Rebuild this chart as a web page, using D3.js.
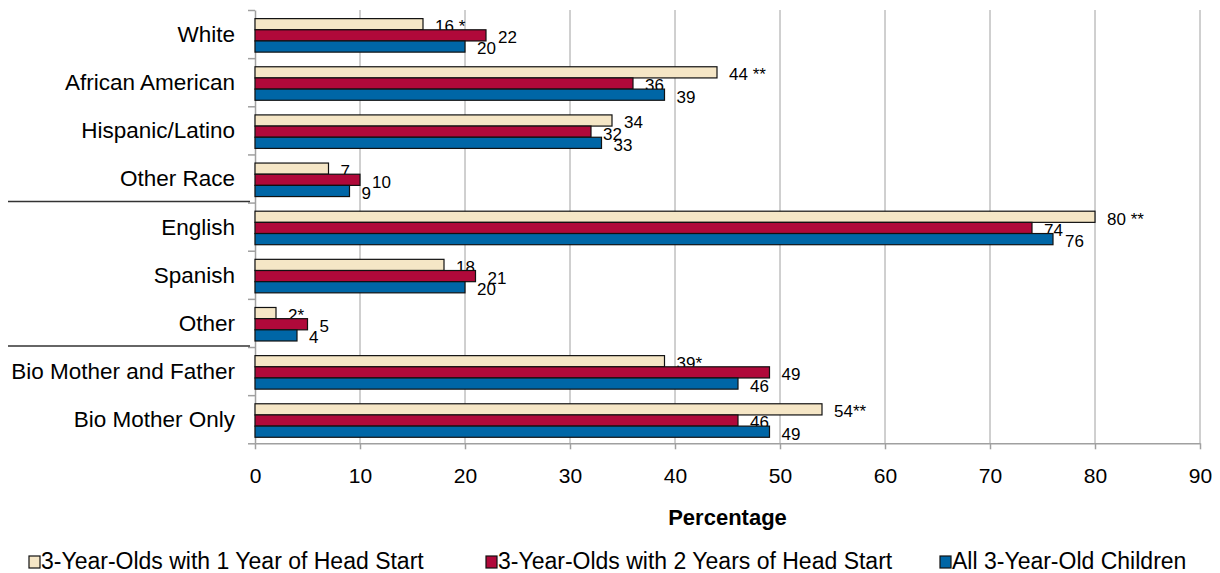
<!DOCTYPE html>
<html>
<head>
<meta charset="utf-8">
<script src="https://cdn.jsdelivr.net/npm/d3@7"></script>
<style>
  html, body { margin: 0; padding: 0; background: #fff; }
  svg { display: block; font-family: "Liberation Sans", Arial, sans-serif; }
</style>
</head>
<body>
<svg id="chart" width="1220" height="573"></svg>
<script>
// ---- data ----
const categories = ["White", "African American", "Hispanic/Latino", "Other Race",
                    "English", "Spanish", "Other", "Bio Mother and Father", "Bio Mother Only"];
const seriesNames = ["3-Year-Olds with 1 Year of Head Start",
                     "3-Year-Olds with 2 Years of Head Start",
                     "All 3-Year-Old Children"];
const oneYear     = [16, 44, 34, 7, 80, 18, 2, 39, 54];
const twoYears    = [22, 36, 32, 10, 74, 21, 5, 49, 46];
const allChildren = [20, 39, 33, 9, 76, 20, 4, 46, 49];
// significance markers attached to the 1-year labels
const oneYearMarks = [" *", " **", "", "", " **", "", "*", "*", "**"];
const xTicks = [0, 10, 20, 30, 40, 50, 60, 70, 80, 90];
const groupBreaks = [4, 7]; // separator lines before these category indexes
const colors = ["#F5E6C6", "#B0093A", "#0066A6"];

(function () {
// ---- layout ----
const svg = d3.select("#chart");
const pTop = 10, pBottom = 443.3, pLeft = 255, pRight = 1200;

const x = d3.scaleLinear().domain([0, 90]).range([pLeft, pRight]);
const y = d3.scaleBand().domain(categories).range([pTop, pBottom]).paddingInner(0).paddingOuter(0);
const yIdx = d3.scaleLinear().domain([0, categories.length]).range([pTop, pBottom]);
const step = y.bandwidth();
const barH = step * 0.232;
const groupOffset = (step - barH * 3) / 2 + 1.3;

// gridlines
svg.append("g").selectAll("line")
  .data(xTicks.filter(d => d > 0))
  .join("line")
  .attr("x1", d => x(d)).attr("x2", d => x(d))
  .attr("y1", pTop).attr("y2", pBottom)
  .attr("stroke", "#A0A0A0").attr("stroke-width", 1);

// bottom axis
const xAxis = svg.append("g")
  .attr("transform", `translate(0,${pBottom})`)
  .call(d3.axisBottom(x).tickValues(xTicks).tickSize(6).tickSizeOuter(0).tickPadding(0));
xAxis.select(".domain").attr("stroke", "#A0A0A0").attr("stroke-width", 1.5);
xAxis.selectAll(".tick line").attr("stroke", "#A0A0A0").attr("stroke-width", 1.5);
xAxis.selectAll(".tick text")
  .attr("dy", null).attr("y", 40)
  .attr("font-size", 21).attr("fill", "#000")
  .attr("font-family", '"Liberation Sans", Arial, sans-serif');

// left axis (ticks at band boundaries)
const yAxis = svg.append("g")
  .attr("transform", `translate(${pLeft},0)`)
  .call(d3.axisLeft(yIdx).tickValues(d3.range(categories.length + 1)).tickFormat("").tickSize(7).tickSizeOuter(0));
yAxis.select(".domain").attr("stroke", "#A0A0A0").attr("stroke-width", 1.5);
yAxis.selectAll(".tick line").attr("stroke", "#A0A0A0").attr("stroke-width", 1.5);

// category labels
const yLab = svg.append("g")
  .attr("transform", `translate(${pLeft},0)`)
  .call(d3.axisLeft(y).tickSize(0).tickPadding(20));
yLab.select(".domain").remove();
yLab.selectAll(".tick text")
  .attr("font-size", 22.5).attr("fill", "#000")
  .attr("font-family", '"Liberation Sans", Arial, sans-serif')
  .attr("dy", "0.35em");

// group separators
svg.append("g").selectAll("line")
  .data(groupBreaks)
  .join("line")
  .attr("x1", 8).attr("x2", pLeft - 5)
  .attr("y1", d => yIdx(d) - 1).attr("y2", d => yIdx(d) - 1)
  .attr("stroke", "#333").attr("stroke-width", 1.5);

// bars and labels: series drawn in order so later bars overlap earlier labels
const series = [
  { values: oneYear, marks: oneYearMarks },
  { values: twoYears, marks: categories.map(() => "") },
  { values: allChildren, marks: categories.map(() => "") }
];
series.forEach((s, si) => {
  const g = svg.append("g");
  const rows = categories.map((c, i) => ({ c, v: s.values[i], m: s.marks[i] }));
  g.selectAll("rect").data(rows).join("rect")
    .attr("x", x(0))
    .attr("y", d => y(d.c) + groupOffset + si * barH)
    .attr("width", d => x(d.v) - x(0))
    .attr("height", barH)
    .attr("fill", colors[si])
    .attr("stroke", "#111").attr("stroke-width", 1.2);
  g.selectAll("text").data(rows).join("text")
    .attr("x", d => x(d.v) + 12)
    .attr("y", d => y(d.c) + groupOffset + si * barH + barH / 2 + 2)
    .attr("dy", "0.35em")
    .attr("font-size", 17).attr("fill", "#000")
    .text(d => d.v + d.m);
});

// axis title
svg.append("text")
  .attr("x", (pLeft + pRight) / 2).attr("y", 525)
  .attr("text-anchor", "middle")
  .attr("font-size", 22).attr("font-weight", "bold")
  .text("Percentage");

// legend
const legendX = [29, 486, 940];
const lg = svg.append("g");
seriesNames.forEach((name, i) => {
  lg.append("rect")
    .attr("x", legendX[i]).attr("y", 556)
    .attr("width", 11).attr("height", 12)
    .attr("fill", colors[i]).attr("stroke", "#111").attr("stroke-width", 1.2);
  lg.append("text")
    .attr("x", legendX[i] + 12).attr("y", 569)
    .attr("font-size", 23).attr("fill", "#000")
    .text(name);
});
})();
</script>
</body>
</html>
